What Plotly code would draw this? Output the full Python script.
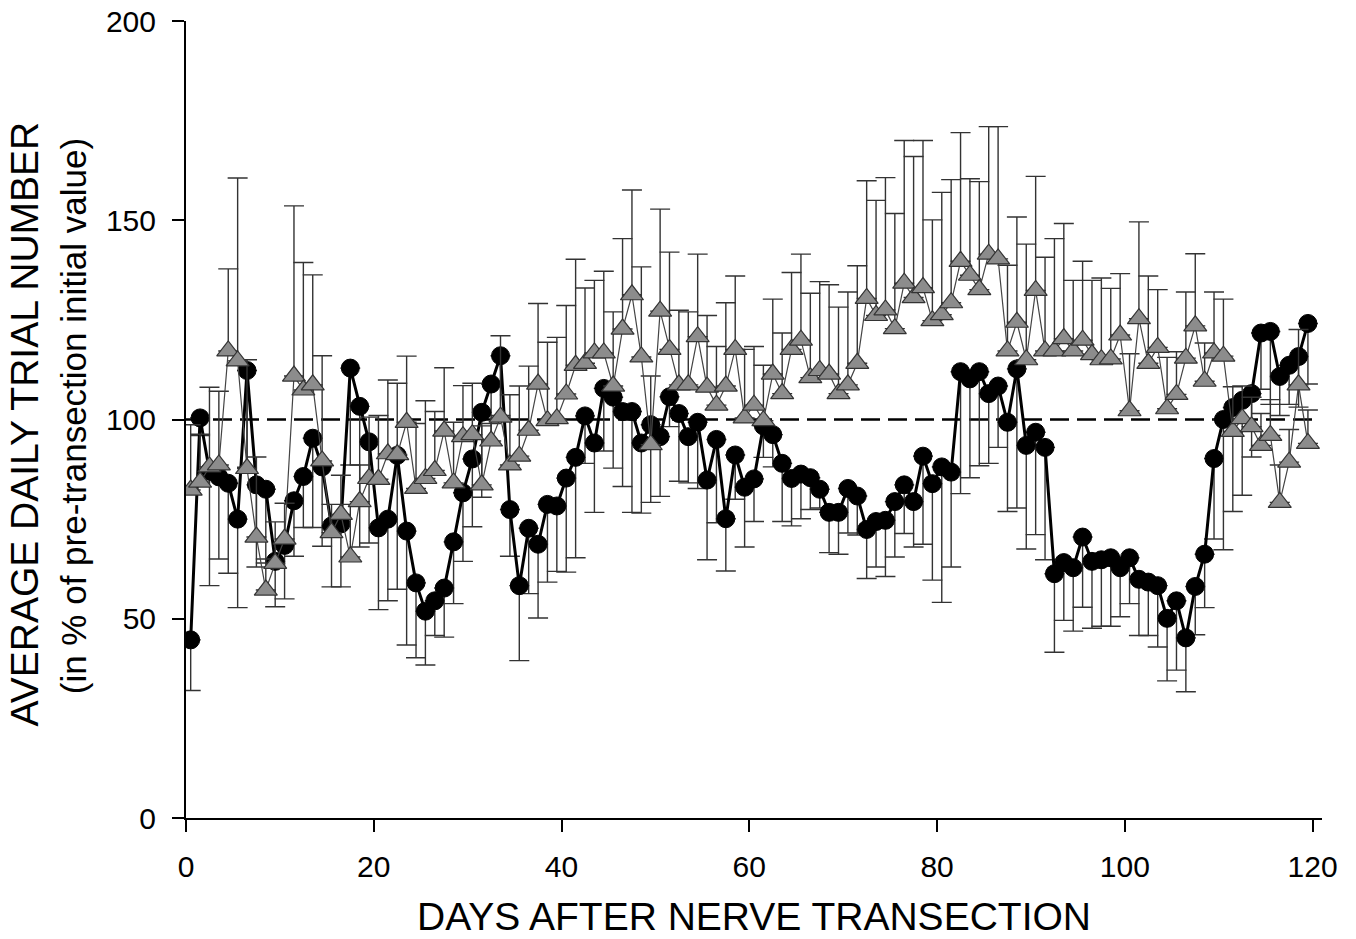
import plotly.graph_objects as go

# day index (values plotted at mid-day)
days = [i + 0.5 for i in range(120)]

# Filled circles: mean values and lower end of error bar
circle_mean = [
    44.7, 100.4, 87.0, 85.6, 84.0, 75.0, 112.3, 83.6, 82.5, 64.4,
    68.4, 79.6, 85.7, 95.3, 88.1, 73.3, 73.8, 112.9, 103.3, 94.4,
    72.8, 75.0, 91.0, 72.0, 59.0, 51.9, 54.5, 57.7, 69.3, 81.6,
    90.1, 101.8, 108.9, 116.0, 77.4, 58.3, 72.7, 68.7, 78.7, 78.3,
    85.3, 90.5, 100.9, 94.1, 107.8, 105.6, 102.0, 102.0, 94.1, 98.7,
    95.7, 105.7, 101.5, 95.7, 99.3, 84.8, 95.0, 75.1, 91.1, 83.0,
    85.1, 98.4, 96.2, 89.0, 85.2, 86.3, 85.4, 82.5, 76.7, 76.7,
    82.7, 80.8, 72.4, 74.4, 74.7, 79.4, 83.6, 79.4, 90.8, 83.9,
    88.1, 86.8, 112.0, 110.2, 112.0, 106.5, 108.4, 99.3, 112.7, 93.5,
    96.8, 93.0, 61.3, 64.1, 62.8, 70.5, 64.4, 64.8, 65.3, 62.8,
    65.3, 59.9, 59.2, 58.3, 50.1, 54.5, 45.2, 58.1, 66.2, 90.2,
    100.0, 103.0, 104.8, 106.5, 121.7, 122.1, 110.8, 113.6, 115.8, 124.1,
]
circle_low = [
    32.0, 96.0, 58.3, 65.0, 61.4, 52.8, 88.0, 63.0, 64.0, 53.0,
    55.0, 65.7, 72.9, 72.9, 68.2, 58.0, 58.0, 88.6, 68.0, 69.0,
    52.3, 54.5, 57.4, 43.4, 40.2, 38.4, 45.8, 45.4, 53.8, 64.4,
    73.1, 80.5, 94.0, 101.0, 65.7, 39.5, 56.3, 50.2, 59.2, 61.9,
    61.7, 65.3, 89.0, 76.7, 92.1, 87.8, 83.2, 76.7, 76.5, 79.2,
    80.7, 98.2, 84.5, 84.1, 82.7, 64.8, 74.1, 62.0, 80.0, 68.0,
    74.4, 90.5, 88.1, 74.4, 73.3, 75.1, 77.4, 77.8, 66.6, 66.2,
    71.5, 71.0, 60.1, 63.0, 60.6, 65.5, 71.4, 68.0, 68.7, 59.7,
    54.1, 63.0, 81.4, 85.4, 88.4, 89.0, 93.0, 76.9, 77.8, 67.5,
    71.1, 64.8, 41.6, 49.6, 46.9, 52.9, 47.6, 48.1, 48.1, 50.5,
    53.8, 45.8, 45.8, 42.9, 34.4, 37.1, 31.7, 46.0, 52.8, 70.0,
    67.3, 76.9, 81.0, 90.6, 107.6, 103.8, 101.0, 103.8, 103.1, 108.9,
]

# Grey triangles: mean values and upper end of error bar
triangle_mean = [
    82.3, 84.3, 88.1, 88.6, 117.2, 114.7, 87.7, 70.5, 57.2, 63.9,
    70.0, 110.9, 107.4, 108.7, 89.6, 71.6, 76.2, 65.5, 79.4, 85.2,
    85.0, 91.4, 91.2, 99.3, 82.7, 85.2, 87.2, 97.1, 84.1, 95.7,
    96.2, 83.6, 94.6, 100.6, 88.6, 90.8, 97.3, 108.9, 99.7, 100.2,
    106.4, 113.6, 114.1, 116.7, 116.7, 108.4, 122.7, 131.3, 115.7, 93.7,
    127.2, 117.6, 108.7, 108.7, 120.8, 108.1, 103.6, 108.4, 117.6, 100.4,
    103.6, 99.7, 111.4, 106.5, 117.6, 119.9, 110.5, 112.3, 111.4, 106.5,
    108.7, 114.1, 130.4, 126.1, 127.5, 122.8, 134.2, 130.6, 133.1, 124.8,
    126.3, 129.3, 139.7, 136.2, 132.6, 141.5, 140.3, 117.2, 124.4, 115.0,
    132.4, 117.2, 117.2, 120.3, 117.2, 119.9, 116.3, 115.0, 115.2, 121.2,
    102.2, 125.3, 114.1, 118.1, 102.7, 106.3, 115.4, 123.5, 109.6, 116.7,
    115.9, 97.0, 100.2, 98.2, 93.5, 96.0, 79.2, 89.3, 108.7, 94.0,
]
triangle_high = [
    98.7, 96.3, 108.1, 107.1, 137.8, 160.6, 115.0, 90.6, 65.0, 74.3,
    79.0, 153.6, 139.4, 136.3, 116.0, 78.7, 86.0, 78.7, 88.6, 100.6,
    101.0, 109.9, 109.1, 115.9, 99.0, 104.7, 102.0, 113.0, 99.3, 108.5,
    109.1, 98.4, 99.0, 121.0, 106.2, 108.4, 113.4, 129.1, 119.4, 120.6,
    128.6, 140.2, 133.0, 134.9, 137.2, 127.0, 145.4, 157.6, 138.3, 110.9,
    152.8, 142.0, 127.4, 127.0, 141.5, 126.1, 118.3, 129.3, 136.0, 117.6,
    118.3, 113.6, 130.2, 121.7, 136.9, 141.5, 131.7, 134.6, 133.8, 128.2,
    132.0, 138.6, 159.9, 155.0, 160.7, 151.7, 170.0, 166.0, 170.0, 150.1,
    157.0, 160.2, 172.0, 160.4, 159.7, 173.5, 173.5, 138.7, 150.8, 144.0,
    161.0, 140.7, 145.4, 149.2, 134.9, 139.7, 134.9, 135.5, 132.9, 136.6,
    116.5, 149.6, 136.0, 132.6, 115.6, 117.0, 132.0, 141.6, 119.2, 132.0,
    130.2, 108.2, 108.4, 105.6, 101.5, 105.0, 88.6, 97.5, 122.6, 102.4,
]

x_ticks = [0, 20, 40, 60, 80, 100, 120]
y_ticks = [0, 50, 100, 150, 200]
reference_level = 100

n = len(days)
fig = go.Figure()

fig.add_trace(go.Scatter(
    x=days, y=circle_mean, mode="lines+markers",
    line=dict(color="black", width=3),
    marker=dict(symbol="circle", size=18, color="black",
                line=dict(color="black", width=1)),
    error_y=dict(type="data", symmetric=False,
                 array=[0] * n,
                 arrayminus=[m - lo for m, lo in zip(circle_mean, circle_low)],
                 color="#333333", thickness=1.4, width=10),
    showlegend=False,
))

fig.add_trace(go.Scatter(
    x=days, y=triangle_mean, mode="lines+markers",
    line=dict(color="#444444", width=1.2),
    marker=dict(symbol="triangle-up", size=20, color="#8c8c8c",
                line=dict(color="#333333", width=1.2)),
    error_y=dict(type="data", symmetric=False,
                 array=[hi - m for m, hi in zip(triangle_mean, triangle_high)],
                 arrayminus=[0] * n,
                 color="#333333", thickness=1.4, width=10),
    showlegend=False,
))

fig.add_shape(type="line", x0=0, x1=120, y0=reference_level, y1=reference_level,
              xref="x", yref="y", layer="below",
              line=dict(color="black", width=2.6, dash="19px,8px"))

font_family = "Liberation Sans, Arial, sans-serif"

fig.update_layout(
    width=1356, height=939, autosize=False,
    margin=dict(l=186, r=34, t=21, b=121, pad=0),
    paper_bgcolor="white", plot_bgcolor="white",
    font=dict(family=font_family, color="black", size=30),
    xaxis=dict(range=[0, 121], tickvals=x_ticks, ticks="outside", ticklen=12,
               tickwidth=2, tickcolor="black", showline=True, linecolor="black",
               linewidth=2, showgrid=False, zeroline=False, automargin=False,
               tickfont=dict(size=30), ticklabelstandoff=9,
               ticklabeloverflow="allow"),
    yaxis=dict(range=[0, 200], tickvals=y_ticks, ticks="outside", ticklen=12,
               tickwidth=2, tickcolor="black", showline=True, linecolor="black",
               linewidth=2, showgrid=False, zeroline=False, automargin=False,
               tickfont=dict(size=30), ticklabelstandoff=10,
               ticklabeloverflow="allow"),
)

fig.add_annotation(text="DAYS AFTER NERVE TRANSECTION", xref="paper", yref="paper",
                   x=0.5, y=-0.1230, showarrow=False, yanchor="middle",
                   font=dict(size=39, family=font_family))
fig.add_annotation(text="AVERAGE DAILY TRIAL NUMBER", xref="paper", yref="paper",
                   x=-0.1425, y=0.494, textangle=-90, showarrow=False,
                   xanchor="center", yanchor="middle",
                   font=dict(size=39, family=font_family))
fig.add_annotation(text="(in % of pre-transection initial value)", xref="paper", yref="paper",
                   x=-0.0995, y=0.504, textangle=-90, showarrow=False,
                   xanchor="center", yanchor="middle",
                   font=dict(size=35, family=font_family))

fig.write_html("out.html",
               config={"displayModeBar": False},
               post_script="document.body.style.margin='0';"
                           "document.body.style.overflow='hidden';")
